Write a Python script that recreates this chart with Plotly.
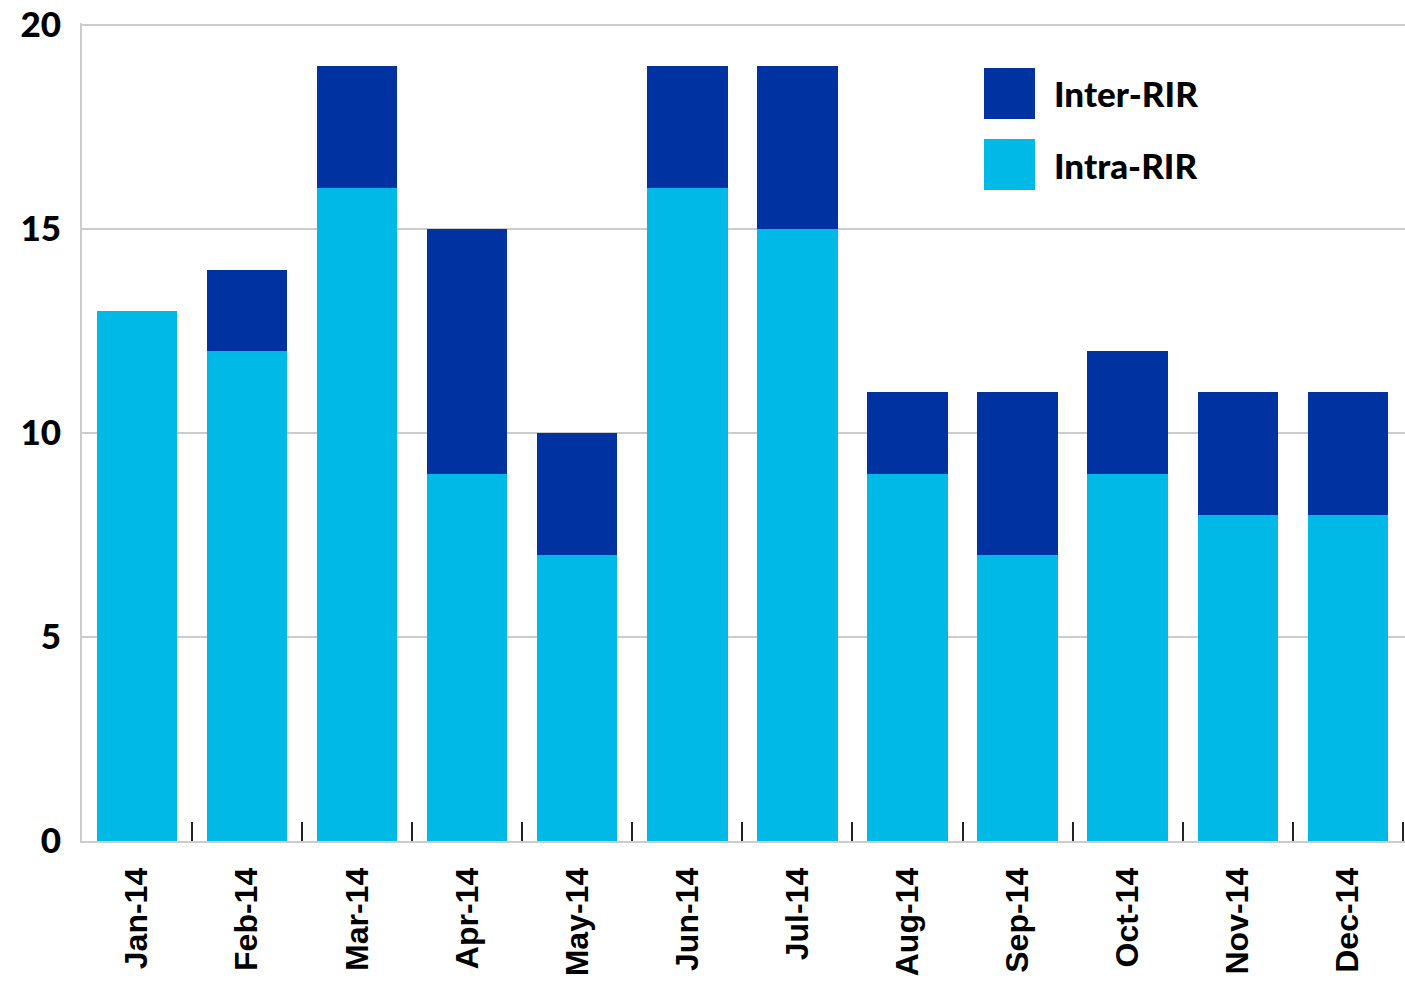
import plotly.graph_objects as go

months = ["Jan-14", "Feb-14", "Mar-14", "Apr-14", "May-14", "Jun-14",
          "Jul-14", "Aug-14", "Sep-14", "Oct-14", "Nov-14", "Dec-14"]
intra_rir = [13, 12, 16, 9, 7, 16, 15, 9, 7, 9, 8, 8]
inter_rir = [0, 2, 3, 6, 3, 3, 4, 2, 4, 3, 3, 3]
y_ticks = [0, 5, 10, 15, 20]
boundary_ticks = [i + 0.5 for i in range(len(months))]

DARK = "#0033A1"
LIGHT = "#00B9E7"

W, H = 1405, 985
L, R, T, B = 82, 0, 23, 144
PW, PH = W - L - R, H - T - B
X_RANGE = [-0.5, 11.52]

fig = go.Figure()
fig.add_trace(go.Bar(x=months, y=intra_rir, name="Intra-RIR",
                     marker=dict(color=LIGHT, line=dict(width=0))))
fig.add_trace(go.Bar(x=months, y=inter_rir, name="Inter-RIR",
                     marker=dict(color=DARK, line=dict(width=0))))
# helper invisible trace so the boundary-tick axis is drawn
fig.add_trace(go.Scatter(x=[X_RANGE[0]], y=[0], xaxis="x2", mode="markers",
                         marker=dict(opacity=0), hoverinfo="skip", showlegend=False))

fig.update_layout(
    width=W, height=H,
    margin=dict(l=L, r=R, t=T, b=B, autoexpand=False),
    barmode="stack", bargap=0.27,
    plot_bgcolor="white", paper_bgcolor="white",
    showlegend=False,
    xaxis=dict(
        type="category", ticks="",
        showline=True, linecolor="#cccccc", linewidth=2,
        showgrid=False, tickangle=-90, ticklabelstandoff=12,
        tickfont=dict(family="Liberation Sans", size=32, color="black", weight="bold"),
        range=X_RANGE,
    ),
    xaxis2=dict(
        overlaying="x", anchor="y", side="bottom", range=X_RANGE,
        tickvals=boundary_ticks, ticks="inside", ticklen=19, tickwidth=2,
        tickcolor="#222222", showticklabels=False, showgrid=False,
        zeroline=False, showline=False,
    ),
    yaxis=dict(
        range=[0, 20.05], tickvals=y_ticks, showgrid=True, gridcolor="#cccccc",
        gridwidth=2, showline=True, linecolor="#cccccc", linewidth=2,
        zeroline=False, ticks="", ticklabelstandoff=12, ticklabeloverflow="allow",
        tickfont=dict(family="Lato", size=35, color="black", weight=900),
    ),
)

# legend drawn as layout decoration (large square swatches), positions in px
legend_items = [("Inter-RIR", DARK, 93.5), ("Intra-RIR", LIGHT, 164.5)]
for label, color, yc_px in legend_items:
    yc = 1 - (yc_px - T) / PH
    fig.add_shape(type="rect", xref="paper", yref="paper",
                  x0=(984 - L) / PW, x1=(1035 - L) / PW,
                  y0=yc - 25.5 / PH, y1=yc + 25.5 / PH,
                  fillcolor=color, line=dict(width=0))
    fig.add_annotation(xref="paper", yref="paper", x=(1052 - L) / PW, y=yc,
                       xanchor="left", yanchor="middle", showarrow=False,
                       text=label,
                       font=dict(family="Lato", size=35, color="black", weight=900))

fig.write_html("out.html",
               config={"displayModeBar": False},
               post_script="document.body.style.margin='0';document.body.style.overflow='hidden';")
